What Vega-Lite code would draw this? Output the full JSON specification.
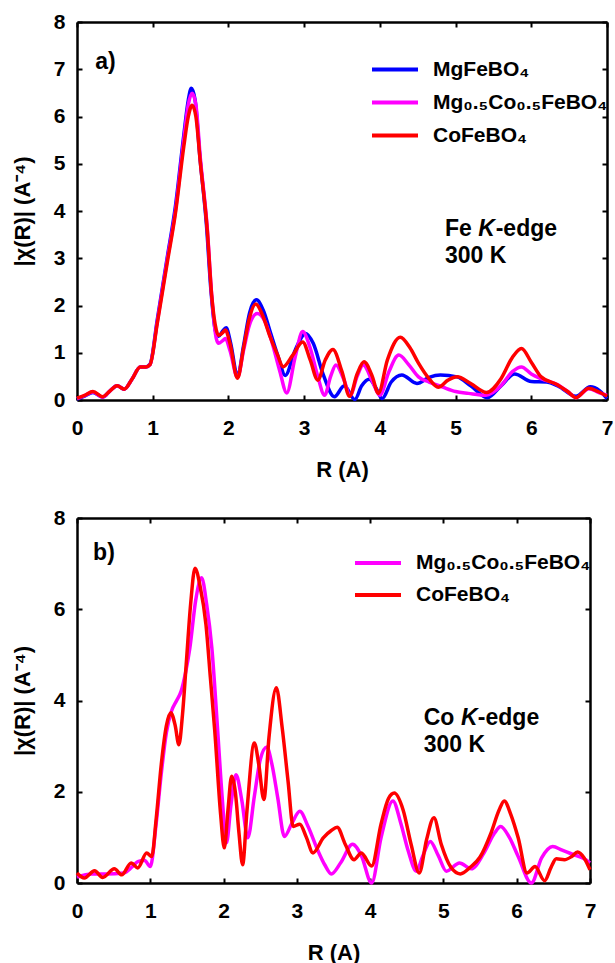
{
  "$schema": "https://vega.github.io/schema/vega-lite/v6.json",
  "padding": {"left": 11, "top": 11, "right": 0, "bottom": 0},
  "background": "white",
  "config": {
    "view": {"stroke": null},
    "font": "Liberation Sans",
    "axis": {"domainColor": "black", "domainWidth": 2.5, "tickColor": "black", "tickWidth": 2, "tickSize": -5, "grid": false, "labelFont": "Liberation Sans", "labelFontSize": 21, "labelFontWeight": "bold", "labelColor": "black", "titleFont": "Liberation Sans", "titleFontSize": 22, "titleFontWeight": "bold", "titleColor": "black"},
    "axisX": {"labelPadding": 22, "titlePadding": 21, "labelFlush": false},
    "axisY": {"labelPadding": 17, "titlePadding": 19},
    "legend": {"title": null, "symbolType": "stroke", "symbolStrokeWidth": 4, "symbolSize": 2116, "clipHeight": 33, "rowPadding": 0, "labelFontSize": 21, "labelFontWeight": "bold", "labelFont": "Liberation Sans", "labelColor": "black", "labelOffset": 13, "labelLimit": 400, "padding": 0}
  },
  "resolve": {"scale": {"color": "independent"}, "legend": {"color": "independent"}},
  "spacing": 27,
  "datasets": {
    "a": [
      {"s":"MgFeBO₄","r":0,"v":0.02},{"s":"MgFeBO₄","r":0.1,"v":0.08},{"s":"MgFeBO₄","r":0.21,"v":0.16},{"s":"MgFeBO₄","r":0.34,"v":0.06},{"s":"MgFeBO₄","r":0.44,"v":0.2},{"s":"MgFeBO₄","r":0.53,"v":0.3},{"s":"MgFeBO₄","r":0.625,"v":0.23},{"s":"MgFeBO₄","r":0.73,"v":0.45},{"s":"MgFeBO₄","r":0.835,"v":0.7},{"s":"MgFeBO₄","r":0.91,"v":0.7},{"s":"MgFeBO₄","r":0.965,"v":0.76},{"s":"MgFeBO₄","r":1.06,"v":1.7},{"s":"MgFeBO₄","r":1.19,"v":3.0},{"s":"MgFeBO₄","r":1.3,"v":4.1},{"s":"MgFeBO₄","r":1.41,"v":5.6},{"s":"MgFeBO₄","r":1.47,"v":6.35},{"s":"MgFeBO₄","r":1.51,"v":6.6},{"s":"MgFeBO₄","r":1.56,"v":6.35},{"s":"MgFeBO₄","r":1.62,"v":5.2},{"s":"MgFeBO₄","r":1.71,"v":3.7},{"s":"MgFeBO₄","r":1.77,"v":2.3},{"s":"MgFeBO₄","r":1.83,"v":1.45},{"s":"MgFeBO₄","r":1.87,"v":1.35},{"s":"MgFeBO₄","r":1.92,"v":1.45},{"s":"MgFeBO₄","r":1.97,"v":1.53},{"s":"MgFeBO₄","r":2.03,"v":1.2},{"s":"MgFeBO₄","r":2.12,"v":0.5},{"s":"MgFeBO₄","r":2.2,"v":1.15},{"s":"MgFeBO₄","r":2.28,"v":1.85},{"s":"MgFeBO₄","r":2.37,"v":2.12},{"s":"MgFeBO₄","r":2.46,"v":1.9},{"s":"MgFeBO₄","r":2.56,"v":1.4},{"s":"MgFeBO₄","r":2.66,"v":0.9},{"s":"MgFeBO₄","r":2.75,"v":0.52},{"s":"MgFeBO₄","r":2.88,"v":1.05},{"s":"MgFeBO₄","r":3.02,"v":1.41},{"s":"MgFeBO₄","r":3.12,"v":1.2},{"s":"MgFeBO₄","r":3.25,"v":0.55},{"s":"MgFeBO₄","r":3.4,"v":0.07},{"s":"MgFeBO₄","r":3.53,"v":0.3},{"s":"MgFeBO₄","r":3.67,"v":0.01},{"s":"MgFeBO₄","r":3.76,"v":0.3},{"s":"MgFeBO₄","r":3.86,"v":0.44},{"s":"MgFeBO₄","r":3.95,"v":0.25},{"s":"MgFeBO₄","r":4.03,"v":0.03},{"s":"MgFeBO₄","r":4.15,"v":0.38},{"s":"MgFeBO₄","r":4.29,"v":0.53},{"s":"MgFeBO₄","r":4.49,"v":0.35},{"s":"MgFeBO₄","r":4.65,"v":0.48},{"s":"MgFeBO₄","r":4.8,"v":0.53},{"s":"MgFeBO₄","r":5.02,"v":0.49},{"s":"MgFeBO₄","r":5.2,"v":0.3},{"s":"MgFeBO₄","r":5.42,"v":0.05},{"s":"MgFeBO₄","r":5.6,"v":0.3},{"s":"MgFeBO₄","r":5.78,"v":0.55},{"s":"MgFeBO₄","r":6.0,"v":0.39},{"s":"MgFeBO₄","r":6.2,"v":0.38},{"s":"MgFeBO₄","r":6.35,"v":0.3},{"s":"MgFeBO₄","r":6.59,"v":0.08},{"s":"MgFeBO₄","r":6.78,"v":0.28},{"s":"MgFeBO₄","r":6.9,"v":0.2},{"s":"MgFeBO₄","r":7.0,"v":0.03},
      {"s":"Mg₀.₅Co₀.₅FeBO₄","r":0,"v":0.03},{"s":"Mg₀.₅Co₀.₅FeBO₄","r":0.1,"v":0.09},{"s":"Mg₀.₅Co₀.₅FeBO₄","r":0.21,"v":0.17},{"s":"Mg₀.₅Co₀.₅FeBO₄","r":0.34,"v":0.06},{"s":"Mg₀.₅Co₀.₅FeBO₄","r":0.44,"v":0.2},{"s":"Mg₀.₅Co₀.₅FeBO₄","r":0.53,"v":0.3},{"s":"Mg₀.₅Co₀.₅FeBO₄","r":0.625,"v":0.23},{"s":"Mg₀.₅Co₀.₅FeBO₄","r":0.73,"v":0.45},{"s":"Mg₀.₅Co₀.₅FeBO₄","r":0.835,"v":0.7},{"s":"Mg₀.₅Co₀.₅FeBO₄","r":0.91,"v":0.7},{"s":"Mg₀.₅Co₀.₅FeBO₄","r":0.965,"v":0.75},{"s":"Mg₀.₅Co₀.₅FeBO₄","r":1.06,"v":1.65},{"s":"Mg₀.₅Co₀.₅FeBO₄","r":1.19,"v":2.95},{"s":"Mg₀.₅Co₀.₅FeBO₄","r":1.3,"v":4.0},{"s":"Mg₀.₅Co₀.₅FeBO₄","r":1.41,"v":5.5},{"s":"Mg₀.₅Co₀.₅FeBO₄","r":1.47,"v":6.25},{"s":"Mg₀.₅Co₀.₅FeBO₄","r":1.52,"v":6.49},{"s":"Mg₀.₅Co₀.₅FeBO₄","r":1.57,"v":6.25},{"s":"Mg₀.₅Co₀.₅FeBO₄","r":1.63,"v":5.1},{"s":"Mg₀.₅Co₀.₅FeBO₄","r":1.72,"v":3.65},{"s":"Mg₀.₅Co₀.₅FeBO₄","r":1.78,"v":2.2},{"s":"Mg₀.₅Co₀.₅FeBO₄","r":1.84,"v":1.3},{"s":"Mg₀.₅Co₀.₅FeBO₄","r":1.87,"v":1.2},{"s":"Mg₀.₅Co₀.₅FeBO₄","r":1.92,"v":1.25},{"s":"Mg₀.₅Co₀.₅FeBO₄","r":1.96,"v":1.3},{"s":"Mg₀.₅Co₀.₅FeBO₄","r":2.02,"v":1.05},{"s":"Mg₀.₅Co₀.₅FeBO₄","r":2.12,"v":0.48},{"s":"Mg₀.₅Co₀.₅FeBO₄","r":2.2,"v":1.05},{"s":"Mg₀.₅Co₀.₅FeBO₄","r":2.28,"v":1.6},{"s":"Mg₀.₅Co₀.₅FeBO₄","r":2.38,"v":1.83},{"s":"Mg₀.₅Co₀.₅FeBO₄","r":2.47,"v":1.7},{"s":"Mg₀.₅Co₀.₅FeBO₄","r":2.57,"v":1.25},{"s":"Mg₀.₅Co₀.₅FeBO₄","r":2.68,"v":0.6},{"s":"Mg₀.₅Co₀.₅FeBO₄","r":2.77,"v":0.15},{"s":"Mg₀.₅Co₀.₅FeBO₄","r":2.88,"v":0.9},{"s":"Mg₀.₅Co₀.₅FeBO₄","r":2.98,"v":1.45},{"s":"Mg₀.₅Co₀.₅FeBO₄","r":3.08,"v":1.1},{"s":"Mg₀.₅Co₀.₅FeBO₄","r":3.18,"v":0.5},{"s":"Mg₀.₅Co₀.₅FeBO₄","r":3.27,"v":0.1},{"s":"Mg₀.₅Co₀.₅FeBO₄","r":3.35,"v":0.5},{"s":"Mg₀.₅Co₀.₅FeBO₄","r":3.42,"v":0.74},{"s":"Mg₀.₅Co₀.₅FeBO₄","r":3.52,"v":0.45},{"s":"Mg₀.₅Co₀.₅FeBO₄","r":3.61,"v":0.1},{"s":"Mg₀.₅Co₀.₅FeBO₄","r":3.7,"v":0.5},{"s":"Mg₀.₅Co₀.₅FeBO₄","r":3.78,"v":0.74},{"s":"Mg₀.₅Co₀.₅FeBO₄","r":3.9,"v":0.4},{"s":"Mg₀.₅Co₀.₅FeBO₄","r":4.0,"v":0.1},{"s":"Mg₀.₅Co₀.₅FeBO₄","r":4.12,"v":0.6},{"s":"Mg₀.₅Co₀.₅FeBO₄","r":4.25,"v":0.95},{"s":"Mg₀.₅Co₀.₅FeBO₄","r":4.38,"v":0.75},{"s":"Mg₀.₅Co₀.₅FeBO₄","r":4.51,"v":0.49},{"s":"Mg₀.₅Co₀.₅FeBO₄","r":4.65,"v":0.38},{"s":"Mg₀.₅Co₀.₅FeBO₄","r":4.82,"v":0.28},{"s":"Mg₀.₅Co₀.₅FeBO₄","r":5.0,"v":0.18},{"s":"Mg₀.₅Co₀.₅FeBO₄","r":5.17,"v":0.14},{"s":"Mg₀.₅Co₀.₅FeBO₄","r":5.4,"v":0.1},{"s":"Mg₀.₅Co₀.₅FeBO₄","r":5.6,"v":0.3},{"s":"Mg₀.₅Co₀.₅FeBO₄","r":5.75,"v":0.6},{"s":"Mg₀.₅Co₀.₅FeBO₄","r":5.87,"v":0.7},{"s":"Mg₀.₅Co₀.₅FeBO₄","r":6.0,"v":0.55},{"s":"Mg₀.₅Co₀.₅FeBO₄","r":6.13,"v":0.45},{"s":"Mg₀.₅Co₀.₅FeBO₄","r":6.35,"v":0.32},{"s":"Mg₀.₅Co₀.₅FeBO₄","r":6.48,"v":0.18},{"s":"Mg₀.₅Co₀.₅FeBO₄","r":6.59,"v":0.05},{"s":"Mg₀.₅Co₀.₅FeBO₄","r":6.76,"v":0.24},{"s":"Mg₀.₅Co₀.₅FeBO₄","r":6.9,"v":0.15},{"s":"Mg₀.₅Co₀.₅FeBO₄","r":7.0,"v":0.1},
      {"s":"CoFeBO₄","r":0,"v":0.04},{"s":"CoFeBO₄","r":0.1,"v":0.1},{"s":"CoFeBO₄","r":0.21,"v":0.18},{"s":"CoFeBO₄","r":0.34,"v":0.07},{"s":"CoFeBO₄","r":0.44,"v":0.2},{"s":"CoFeBO₄","r":0.53,"v":0.3},{"s":"CoFeBO₄","r":0.625,"v":0.23},{"s":"CoFeBO₄","r":0.73,"v":0.45},{"s":"CoFeBO₄","r":0.835,"v":0.7},{"s":"CoFeBO₄","r":0.91,"v":0.7},{"s":"CoFeBO₄","r":0.965,"v":0.75},{"s":"CoFeBO₄","r":1.06,"v":1.62},{"s":"CoFeBO₄","r":1.19,"v":2.89},{"s":"CoFeBO₄","r":1.3,"v":3.95},{"s":"CoFeBO₄","r":1.41,"v":5.36},{"s":"CoFeBO₄","r":1.47,"v":6.0},{"s":"CoFeBO₄","r":1.52,"v":6.24},{"s":"CoFeBO₄","r":1.57,"v":6.0},{"s":"CoFeBO₄","r":1.63,"v":5.01},{"s":"CoFeBO₄","r":1.72,"v":3.6},{"s":"CoFeBO₄","r":1.78,"v":2.19},{"s":"CoFeBO₄","r":1.84,"v":1.48},{"s":"CoFeBO₄","r":1.87,"v":1.37},{"s":"CoFeBO₄","r":1.92,"v":1.42},{"s":"CoFeBO₄","r":1.96,"v":1.48},{"s":"CoFeBO₄","r":2.02,"v":1.2},{"s":"CoFeBO₄","r":2.12,"v":0.46},{"s":"CoFeBO₄","r":2.2,"v":1.1},{"s":"CoFeBO₄","r":2.28,"v":1.75},{"s":"CoFeBO₄","r":2.36,"v":2.03},{"s":"CoFeBO₄","r":2.45,"v":1.8},{"s":"CoFeBO₄","r":2.55,"v":1.34},{"s":"CoFeBO₄","r":2.65,"v":0.95},{"s":"CoFeBO₄","r":2.72,"v":0.7},{"s":"CoFeBO₄","r":2.85,"v":0.95},{"s":"CoFeBO₄","r":2.98,"v":1.23},{"s":"CoFeBO₄","r":3.08,"v":0.85},{"s":"CoFeBO₄","r":3.18,"v":0.42},{"s":"CoFeBO₄","r":3.28,"v":0.85},{"s":"CoFeBO₄","r":3.38,"v":1.07},{"s":"CoFeBO₄","r":3.5,"v":0.6},{"s":"CoFeBO₄","r":3.6,"v":0.08},{"s":"CoFeBO₄","r":3.7,"v":0.55},{"s":"CoFeBO₄","r":3.79,"v":0.81},{"s":"CoFeBO₄","r":3.9,"v":0.5},{"s":"CoFeBO₄","r":3.98,"v":0.14},{"s":"CoFeBO₄","r":4.1,"v":0.85},{"s":"CoFeBO₄","r":4.27,"v":1.33},{"s":"CoFeBO₄","r":4.4,"v":1.1},{"s":"CoFeBO₄","r":4.51,"v":0.78},{"s":"CoFeBO₄","r":4.65,"v":0.45},{"s":"CoFeBO₄","r":4.77,"v":0.27},{"s":"CoFeBO₄","r":4.9,"v":0.42},{"s":"CoFeBO₄","r":5.02,"v":0.49},{"s":"CoFeBO₄","r":5.2,"v":0.35},{"s":"CoFeBO₄","r":5.41,"v":0.16},{"s":"CoFeBO₄","r":5.6,"v":0.45},{"s":"CoFeBO₄","r":5.75,"v":0.9},{"s":"CoFeBO₄","r":5.87,"v":1.09},{"s":"CoFeBO₄","r":6.0,"v":0.8},{"s":"CoFeBO₄","r":6.13,"v":0.49},{"s":"CoFeBO₄","r":6.35,"v":0.32},{"s":"CoFeBO₄","r":6.48,"v":0.18},{"s":"CoFeBO₄","r":6.59,"v":0.05},{"s":"CoFeBO₄","r":6.76,"v":0.25},{"s":"CoFeBO₄","r":6.88,"v":0.18},{"s":"CoFeBO₄","r":7.0,"v":0.08}
    ],
    "b": [
      {"s":"Mg₀.₅Co₀.₅FeBO₄","r":0,"v":0.13},{"s":"Mg₀.₅Co₀.₅FeBO₄","r":0.2,"v":0.2},{"s":"Mg₀.₅Co₀.₅FeBO₄","r":0.4,"v":0.2},{"s":"Mg₀.₅Co₀.₅FeBO₄","r":0.64,"v":0.22},{"s":"Mg₀.₅Co₀.₅FeBO₄","r":0.75,"v":0.35},{"s":"Mg₀.₅Co₀.₅FeBO₄","r":0.83,"v":0.47},{"s":"Mg₀.₅Co₀.₅FeBO₄","r":0.92,"v":0.5},{"s":"Mg₀.₅Co₀.₅FeBO₄","r":1.0,"v":0.36},{"s":"Mg₀.₅Co₀.₅FeBO₄","r":1.08,"v":1.3},{"s":"Mg₀.₅Co₀.₅FeBO₄","r":1.15,"v":2.4},{"s":"Mg₀.₅Co₀.₅FeBO₄","r":1.22,"v":3.3},{"s":"Mg₀.₅Co₀.₅FeBO₄","r":1.29,"v":3.77},{"s":"Mg₀.₅Co₀.₅FeBO₄","r":1.36,"v":4.0},{"s":"Mg₀.₅Co₀.₅FeBO₄","r":1.42,"v":4.2},{"s":"Mg₀.₅Co₀.₅FeBO₄","r":1.48,"v":4.6},{"s":"Mg₀.₅Co₀.₅FeBO₄","r":1.54,"v":5.15},{"s":"Mg₀.₅Co₀.₅FeBO₄","r":1.62,"v":6.2},{"s":"Mg₀.₅Co₀.₅FeBO₄","r":1.7,"v":6.69},{"s":"Mg₀.₅Co₀.₅FeBO₄","r":1.77,"v":6.1},{"s":"Mg₀.₅Co₀.₅FeBO₄","r":1.84,"v":5.15},{"s":"Mg₀.₅Co₀.₅FeBO₄","r":1.92,"v":3.33},{"s":"Mg₀.₅Co₀.₅FeBO₄","r":1.98,"v":1.9},{"s":"Mg₀.₅Co₀.₅FeBO₄","r":2.04,"v":0.88},{"s":"Mg₀.₅Co₀.₅FeBO₄","r":2.1,"v":1.7},{"s":"Mg₀.₅Co₀.₅FeBO₄","r":2.17,"v":2.37},{"s":"Mg₀.₅Co₀.₅FeBO₄","r":2.25,"v":1.8},{"s":"Mg₀.₅Co₀.₅FeBO₄","r":2.33,"v":0.99},{"s":"Mg₀.₅Co₀.₅FeBO₄","r":2.42,"v":1.9},{"s":"Mg₀.₅Co₀.₅FeBO₄","r":2.5,"v":2.7},{"s":"Mg₀.₅Co₀.₅FeBO₄","r":2.59,"v":2.98},{"s":"Mg₀.₅Co₀.₅FeBO₄","r":2.66,"v":2.6},{"s":"Mg₀.₅Co₀.₅FeBO₄","r":2.74,"v":1.86},{"s":"Mg₀.₅Co₀.₅FeBO₄","r":2.83,"v":1.02},{"s":"Mg₀.₅Co₀.₅FeBO₄","r":2.93,"v":1.3},{"s":"Mg₀.₅Co₀.₅FeBO₄","r":3.04,"v":1.57},{"s":"Mg₀.₅Co₀.₅FeBO₄","r":3.15,"v":1.25},{"s":"Mg₀.₅Co₀.₅FeBO₄","r":3.29,"v":0.7},{"s":"Mg₀.₅Co₀.₅FeBO₄","r":3.38,"v":0.4},{"s":"Mg₀.₅Co₀.₅FeBO₄","r":3.47,"v":0.2},{"s":"Mg₀.₅Co₀.₅FeBO₄","r":3.6,"v":0.45},{"s":"Mg₀.₅Co₀.₅FeBO₄","r":3.76,"v":0.85},{"s":"Mg₀.₅Co₀.₅FeBO₄","r":3.88,"v":0.6},{"s":"Mg₀.₅Co₀.₅FeBO₄","r":4.02,"v":0.0},{"s":"Mg₀.₅Co₀.₅FeBO₄","r":4.15,"v":1.0},{"s":"Mg₀.₅Co₀.₅FeBO₄","r":4.31,"v":1.8},{"s":"Mg₀.₅Co₀.₅FeBO₄","r":4.42,"v":1.3},{"s":"Mg₀.₅Co₀.₅FeBO₄","r":4.52,"v":0.7},{"s":"Mg₀.₅Co₀.₅FeBO₄","r":4.63,"v":0.26},{"s":"Mg₀.₅Co₀.₅FeBO₄","r":4.72,"v":0.6},{"s":"Mg₀.₅Co₀.₅FeBO₄","r":4.82,"v":0.91},{"s":"Mg₀.₅Co₀.₅FeBO₄","r":4.93,"v":0.6},{"s":"Mg₀.₅Co₀.₅FeBO₄","r":5.04,"v":0.26},{"s":"Mg₀.₅Co₀.₅FeBO₄","r":5.22,"v":0.44},{"s":"Mg₀.₅Co₀.₅FeBO₄","r":5.38,"v":0.31},{"s":"Mg₀.₅Co₀.₅FeBO₄","r":5.55,"v":0.65},{"s":"Mg₀.₅Co₀.₅FeBO₄","r":5.7,"v":1.1},{"s":"Mg₀.₅Co₀.₅FeBO₄","r":5.78,"v":1.24},{"s":"Mg₀.₅Co₀.₅FeBO₄","r":5.9,"v":1.0},{"s":"Mg₀.₅Co₀.₅FeBO₄","r":6.02,"v":0.58},{"s":"Mg₀.₅Co₀.₅FeBO₄","r":6.2,"v":0.0},{"s":"Mg₀.₅Co₀.₅FeBO₄","r":6.34,"v":0.55},{"s":"Mg₀.₅Co₀.₅FeBO₄","r":6.49,"v":0.8},{"s":"Mg₀.₅Co₀.₅FeBO₄","r":6.62,"v":0.72},{"s":"Mg₀.₅Co₀.₅FeBO₄","r":6.76,"v":0.63},{"s":"Mg₀.₅Co₀.₅FeBO₄","r":6.9,"v":0.55},{"s":"Mg₀.₅Co₀.₅FeBO₄","r":7.0,"v":0.44},
      {"s":"CoFeBO₄","r":0,"v":0.22},{"s":"CoFeBO₄","r":0.1,"v":0.11},{"s":"CoFeBO₄","r":0.24,"v":0.27},{"s":"CoFeBO₄","r":0.35,"v":0.12},{"s":"CoFeBO₄","r":0.51,"v":0.31},{"s":"CoFeBO₄","r":0.61,"v":0.18},{"s":"CoFeBO₄","r":0.74,"v":0.44},{"s":"CoFeBO₄","r":0.83,"v":0.33},{"s":"CoFeBO₄","r":0.95,"v":0.66},{"s":"CoFeBO₄","r":1.02,"v":0.58},{"s":"CoFeBO₄","r":1.08,"v":1.4},{"s":"CoFeBO₄","r":1.15,"v":2.6},{"s":"CoFeBO₄","r":1.22,"v":3.45},{"s":"CoFeBO₄","r":1.28,"v":3.73},{"s":"CoFeBO₄","r":1.34,"v":3.45},{"s":"CoFeBO₄","r":1.39,"v":3.03},{"s":"CoFeBO₄","r":1.44,"v":3.7},{"s":"CoFeBO₄","r":1.49,"v":4.79},{"s":"CoFeBO₄","r":1.55,"v":6.1},{"s":"CoFeBO₄","r":1.61,"v":6.9},{"s":"CoFeBO₄","r":1.68,"v":6.5},{"s":"CoFeBO₄","r":1.76,"v":5.66},{"s":"CoFeBO₄","r":1.82,"v":4.5},{"s":"CoFeBO₄","r":1.88,"v":3.33},{"s":"CoFeBO₄","r":1.96,"v":1.5},{"s":"CoFeBO₄","r":2.01,"v":0.77},{"s":"CoFeBO₄","r":2.06,"v":1.6},{"s":"CoFeBO₄","r":2.11,"v":2.34},{"s":"CoFeBO₄","r":2.16,"v":2.0},{"s":"CoFeBO₄","r":2.21,"v":1.1},{"s":"CoFeBO₄","r":2.26,"v":0.4},{"s":"CoFeBO₄","r":2.32,"v":1.6},{"s":"CoFeBO₄","r":2.42,"v":3.07},{"s":"CoFeBO₄","r":2.48,"v":2.6},{"s":"CoFeBO₄","r":2.55,"v":1.83},{"s":"CoFeBO₄","r":2.62,"v":3.2},{"s":"CoFeBO₄","r":2.72,"v":4.28},{"s":"CoFeBO₄","r":2.8,"v":3.4},{"s":"CoFeBO₄","r":2.88,"v":2.23},{"s":"CoFeBO₄","r":2.95,"v":1.24},{"s":"CoFeBO₄","r":3.04,"v":1.29},{"s":"CoFeBO₄","r":3.13,"v":1.0},{"s":"CoFeBO₄","r":3.22,"v":0.66},{"s":"CoFeBO₄","r":3.36,"v":0.99},{"s":"CoFeBO₄","r":3.47,"v":1.15},{"s":"CoFeBO₄","r":3.55,"v":1.22},{"s":"CoFeBO₄","r":3.66,"v":0.85},{"s":"CoFeBO₄","r":3.78,"v":0.51},{"s":"CoFeBO₄","r":3.88,"v":0.66},{"s":"CoFeBO₄","r":4.02,"v":0.37},{"s":"CoFeBO₄","r":4.15,"v":1.3},{"s":"CoFeBO₄","r":4.25,"v":1.85},{"s":"CoFeBO₄","r":4.33,"v":1.97},{"s":"CoFeBO₄","r":4.45,"v":1.6},{"s":"CoFeBO₄","r":4.56,"v":0.84},{"s":"CoFeBO₄","r":4.67,"v":0.22},{"s":"CoFeBO₄","r":4.77,"v":0.95},{"s":"CoFeBO₄","r":4.87,"v":1.43},{"s":"CoFeBO₄","r":4.97,"v":0.85},{"s":"CoFeBO₄","r":5.1,"v":0.35},{"s":"CoFeBO₄","r":5.23,"v":0.2},{"s":"CoFeBO₄","r":5.37,"v":0.35},{"s":"CoFeBO₄","r":5.5,"v":0.57},{"s":"CoFeBO₄","r":5.65,"v":1.1},{"s":"CoFeBO₄","r":5.76,"v":1.6},{"s":"CoFeBO₄","r":5.83,"v":1.8},{"s":"CoFeBO₄","r":5.92,"v":1.5},{"s":"CoFeBO₄","r":6.02,"v":0.99},{"s":"CoFeBO₄","r":6.14,"v":0.22},{"s":"CoFeBO₄","r":6.25,"v":0.36},{"s":"CoFeBO₄","r":6.38,"v":0.05},{"s":"CoFeBO₄","r":6.47,"v":0.35},{"s":"CoFeBO₄","r":6.54,"v":0.53},{"s":"CoFeBO₄","r":6.65,"v":0.51},{"s":"CoFeBO₄","r":6.75,"v":0.58},{"s":"CoFeBO₄","r":6.83,"v":0.68},{"s":"CoFeBO₄","r":6.92,"v":0.55},{"s":"CoFeBO₄","r":7.0,"v":0.29}
    ]
  },
  "vconcat": [
    {
      "width": 530,
      "height": 378,
      "resolve": {"axis": {"x": "independent", "y": "independent"}},
      "layer": [
        {
          "data": {"name": "a"},
          "mark": {"type": "line", "strokeWidth": 3.5, "interpolate": "monotone"},
          "encoding": {
            "x": {"field": "r", "type": "quantitative", "scale": {"domain": [0, 7], "nice": false, "zero": false}, "axis": {"orient": "bottom", "values": [0,1,2,3,4,5,6,7], "title": "R (A)"}},
            "y": {"field": "v", "type": "quantitative", "scale": {"domain": [0, 8], "nice": false}, "axis": {"orient": "left", "values": [0,1,2,3,4,5,6,7,8], "title": "|χ(R)| (A⁻⁴)"}},
            "color": {"field": "s", "type": "nominal", "scale": {"domain": ["MgFeBO₄", "Mg₀.₅Co₀.₅FeBO₄", "CoFeBO₄"], "range": ["#0000ff", "#ff00ff", "#ff0000"]}, "legend": {"orient": "none", "legendX": 293, "legendY": 31}}
          }
        },
        {
          "data": {"name": "a"},
          "mark": {"type": "line", "opacity": 0},
          "encoding": {
            "x": {"field": "r", "type": "quantitative", "axis": {"orient": "top", "values": [0,1,2,3,4,5,6,7], "labels": false, "title": null}},
            "y": {"field": "v", "type": "quantitative", "axis": {"orient": "right", "values": [0,1,2,3,4,5,6,7,8], "labels": false, "title": null}}
          }
        },
        {
          "data": {"values": [{"r": 0.24, "v": 7.15, "t": "a)"}, {"r": 4.86, "v": 3.62, "t": "Fe"}, {"r": 5.53, "v": 3.62, "t": "-edge"}, {"r": 4.86, "v": 3.05, "t": "300 K"}]},
          "mark": {"type": "text", "align": "left", "baseline": "middle", "fontSize": 23, "fontWeight": "bold", "font": "Liberation Sans", "color": "black"},
          "encoding": {"x": {"field": "r", "type": "quantitative", "axis": null}, "y": {"field": "v", "type": "quantitative", "axis": null}, "text": {"field": "t"}}
        },
        {
          "data": {"values": [{"r": 5.3, "v": 3.62, "t": "K"}]},
          "mark": {"type": "text", "align": "left", "baseline": "middle", "fontSize": 23, "fontWeight": "bold", "fontStyle": "italic", "font": "Liberation Sans", "color": "black"},
          "encoding": {"x": {"field": "r", "type": "quantitative", "axis": null}, "y": {"field": "v", "type": "quantitative", "axis": null}, "text": {"field": "t"}}
        }
      ]
    },
    {
      "width": 513,
      "height": 365,
      "resolve": {"axis": {"x": "independent", "y": "independent"}},
      "layer": [
        {
          "data": {"name": "b"},
          "mark": {"type": "line", "strokeWidth": 3.5, "interpolate": "monotone"},
          "encoding": {
            "x": {"field": "r", "type": "quantitative", "scale": {"domain": [0, 7], "nice": false, "zero": false}, "axis": {"orient": "bottom", "values": [0,1,2,3,4,5,6,7], "title": "R (A)"}},
            "y": {"field": "v", "type": "quantitative", "scale": {"domain": [0, 8], "nice": false}, "axis": {"orient": "left", "values": [0,2,4,6,8], "title": "|χ(R)| (A⁻⁴)"}},
            "color": {"field": "s", "type": "nominal", "scale": {"domain": ["Mg₀.₅Co₀.₅FeBO₄", "CoFeBO₄"], "range": ["#ff00ff", "#ff0000"]}, "legend": {"orient": "none", "legendX": 276, "legendY": 29, "clipHeight": 32}}
          }
        },
        {
          "data": {"name": "b"},
          "mark": {"type": "line", "opacity": 0},
          "encoding": {
            "x": {"field": "r", "type": "quantitative", "axis": {"orient": "top", "values": [0,1,2,3,4,5,6,7], "labels": false, "title": null}},
            "y": {"field": "v", "type": "quantitative", "axis": {"orient": "right", "values": [0,2,4,6,8], "labels": false, "title": null}}
          }
        },
        {
          "data": {"values": [{"r": 0.22, "v": 7.24, "t": "b)"}, {"r": 4.73, "v": 3.62, "t": "Co"}, {"r": 5.47, "v": 3.62, "t": "-edge"}, {"r": 4.73, "v": 3.03, "t": "300 K"}]},
          "mark": {"type": "text", "align": "left", "baseline": "middle", "fontSize": 23, "fontWeight": "bold", "font": "Liberation Sans", "color": "black"},
          "encoding": {"x": {"field": "r", "type": "quantitative", "axis": null}, "y": {"field": "v", "type": "quantitative", "axis": null}, "text": {"field": "t"}}
        },
        {
          "data": {"values": [{"r": 5.24, "v": 3.62, "t": "K"}]},
          "mark": {"type": "text", "align": "left", "baseline": "middle", "fontSize": 23, "fontWeight": "bold", "fontStyle": "italic", "font": "Liberation Sans", "color": "black"},
          "encoding": {"x": {"field": "r", "type": "quantitative", "axis": null}, "y": {"field": "v", "type": "quantitative", "axis": null}, "text": {"field": "t"}}
        }
      ]
    }
  ]
}
